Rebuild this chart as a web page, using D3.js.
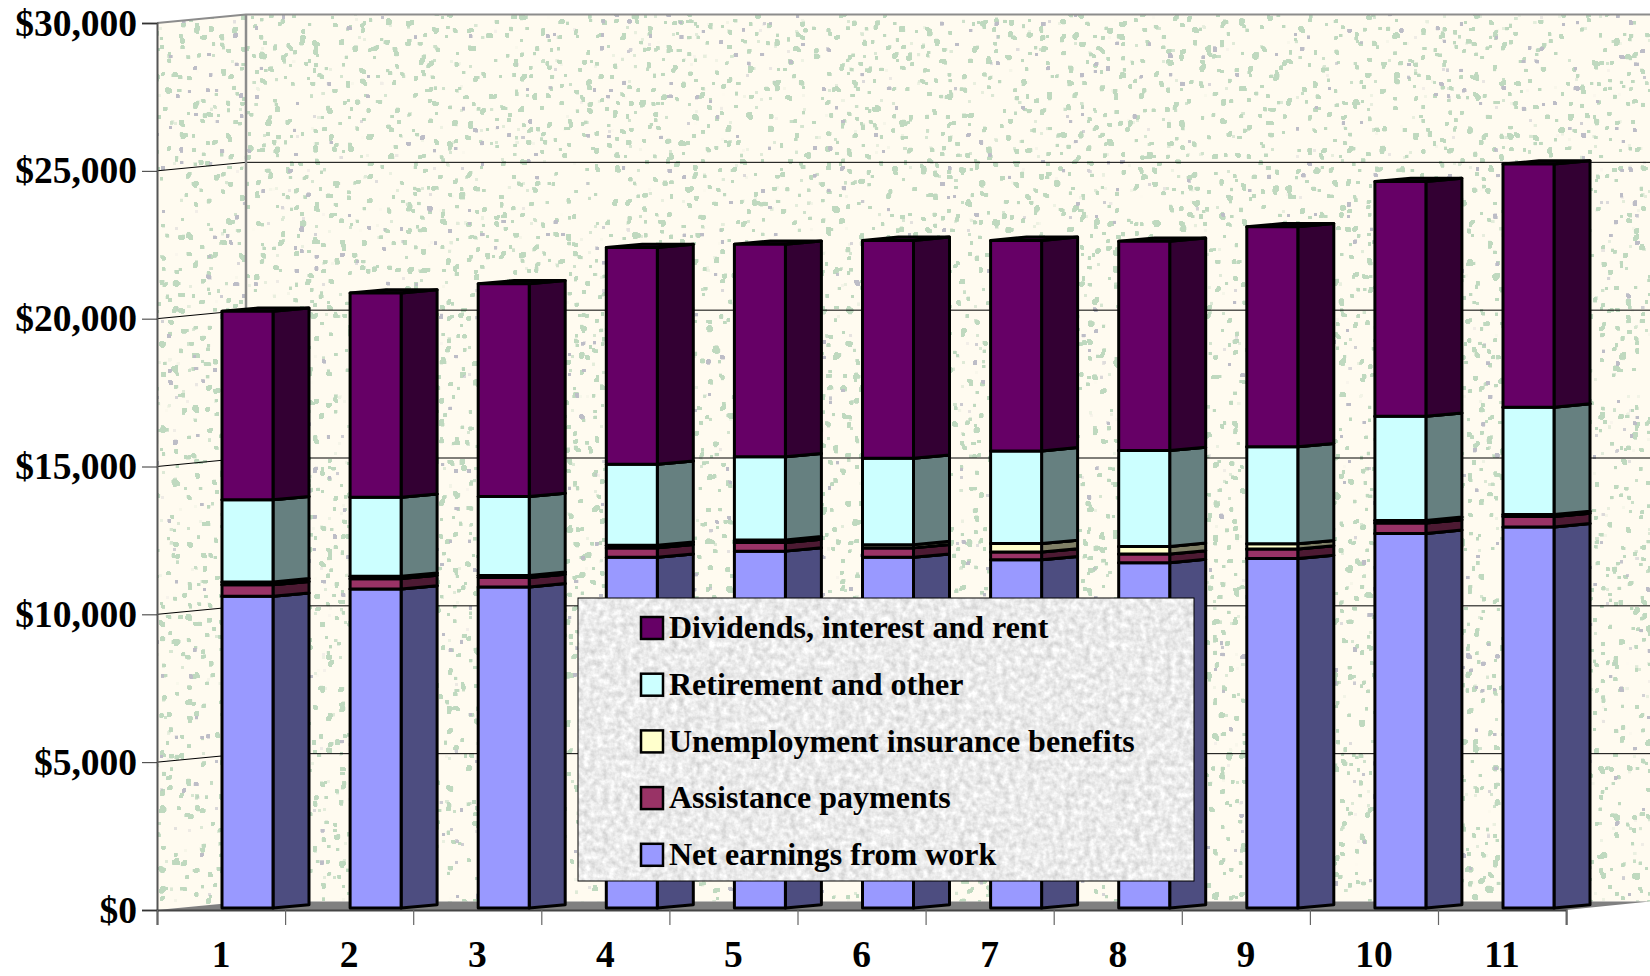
<!doctype html>
<meta charset="utf-8">
<style>
  html, body { margin: 0; background: #fff; }
  svg { display: block; }
  text { font-family: "Liberation Serif", serif; font-weight: bold; fill: #000; }
</style>
<body>
<div id="chart"></div>
<script src="https://d3js.org/d3.v7.min.js"></script>
<script>

const categories = ["1", "2", "3", "4", "5", "6", "7", "8", "9", "10", "11"]
const netEarnings = [10540, 10790, 10860, 11860, 12070, 11860, 11780, 11680, 11820, 12670, 12890]
const assistance = [390, 350, 320, 320, 290, 320, 260, 290, 320, 350, 350]
const unemployment = [100, 80, 70, 90, 90, 110, 290, 260, 180, 90, 70]
const retirement = [2780, 2670, 2670, 2740, 2810, 2920, 3130, 3240, 3280, 3520, 3630]
const dividends = [6370, 6910, 7190, 7330, 7190, 7370, 7120, 7080, 7440, 7940, 8220]
const yTicks = [0, 5000, 10000, 15000, 20000, 25000, 30000]

const seriesNames = ["Net earnings from work", "Assistance payments", "Unemployment insurance benefits", "Retirement and other", "Dividends, interest and rent"]
const seriesValues = [netEarnings, assistance, unemployment, retirement, dividends]
const frontColors = ["#9999ff", "#993366", "#ffffcc", "#ccffff", "#660066"]
const sideColors = ["#4d4d80", "#4d1a33", "#808066", "#668080", "#330033"]

const chartWidth = 1650
const chartHeight = 976
const plotLeft = 157
const plotBottom = 910
const plotTop = 23
const tickStep = 128.1
const wallDx = 89
const wallDy = -8.5

const svg = d3.select("#chart").append("svg")
  .attr("width", chartWidth)
  .attr("height", chartHeight)

const defs = svg.append("defs")

// speckled wallpaper: thresholded noise, dilated so the flecks come out blocky
function speckFilter(id, seed, color, cut) {
  const f = defs.append("filter").attr("id", id)
    .attr("x", 0).attr("y", 0).attr("width", 1).attr("height", 1)
    .attr("color-interpolation-filters", "sRGB")
  f.append("feTurbulence").attr("type", "fractalNoise")
    .attr("baseFrequency", 0.15).attr("numOctaves", 2).attr("seed", seed)
  f.append("feColorMatrix").attr("type", "matrix")
    .attr("values", "0 0 0 0 " + color[0] + "  0 0 0 0 " + color[1] + "  0 0 0 0 " + color[2] + "  60 0 0 0 " + (-60 * cut))
  f.append("feMorphology").attr("operator", "dilate").attr("radius", 1)
}
speckFilter("speck", 7, [0.75, 0.85, 0.75], 0.71)
speckFilter("speckGrey", 23, [0.74, 0.74, 0.78], 0.81)

// grey marble behind the legend
const marble = defs.append("filter").attr("id", "marble")
  .attr("x", 0).attr("y", 0).attr("width", 1).attr("height", 1)
  .attr("color-interpolation-filters", "sRGB")
marble.append("feTurbulence").attr("type", "fractalNoise")
  .attr("baseFrequency", 0.16).attr("numOctaves", 3).attr("seed", 3)
marble.append("feColorMatrix").attr("type", "matrix")
  .attr("values", "0.28 0 0 0 0.78  0.28 0 0 0 0.78  0.28 0 0 0 0.78  0 0 0 0 1")

const x = d3.scaleBand()
  .domain(categories)
  .range([plotLeft, plotLeft + categories.length * tickStep])

const xTicks = d3.scaleLinear()
  .domain([0, categories.length])
  .range([plotLeft, plotLeft + categories.length * tickStep])

const y = d3.scaleLinear()
  .domain([0, 30000])
  .range([plotBottom, plotTop])

// walls and floor
const wallPath = "M" + plotLeft + "," + y(30000) + "L" + (plotLeft + wallDx) + "," + (y(30000) + wallDy) +
  "H" + chartWidth + "V" + (y(0) + wallDy) + "H" + (plotLeft + wallDx) + "L" + plotLeft + "," + y(0) + "Z"
defs.append("clipPath").attr("id", "wallClip").append("path").attr("d", wallPath)

const walls = svg.append("g").attr("clip-path", "url(#wallClip)")
walls.append("rect").attr("x", plotLeft).attr("y", 0).attr("width", chartWidth - plotLeft).attr("height", plotBottom).attr("fill", "#fffbf0")
walls.append("rect").attr("x", plotLeft).attr("y", 0).attr("width", chartWidth - plotLeft).attr("height", plotBottom).attr("filter", "url(#speck)")
walls.append("rect").attr("x", plotLeft).attr("y", 0).attr("width", chartWidth - plotLeft).attr("height", plotBottom).attr("filter", "url(#speckGrey)")

svg.append("path")
  .attr("d", "M" + plotLeft + "," + y(0) + "L" + (plotLeft + wallDx) + "," + (y(0) + wallDy) + "H" + chartWidth +
    "L" + xTicks(categories.length) + "," + y(0) + "Z")
  .attr("fill", "#808080")

// gridlines on the side and back walls
const grid = svg.append("g")
grid.selectAll("path")
  .data(yTicks.filter(d => d > 0 && d < 30000))
  .enter()
  .append("path")
  .attr("d", d => "M" + plotLeft + "," + y(d) + "L" + (plotLeft + wallDx) + "," + (y(d) + wallDy) + "H" + chartWidth)
  .attr("fill", "none")
  .attr("stroke", "#000")
  .attr("stroke-width", 1)

svg.append("path")
  .attr("d", "M" + plotLeft + "," + y(30000) + "L" + (plotLeft + wallDx) + "," + (y(30000) + wallDy) + "H" + chartWidth)
  .attr("fill", "none").attr("stroke", "#8c8c8c").attr("stroke-width", 2)
svg.append("line")
  .attr("x1", plotLeft + wallDx).attr("x2", plotLeft + wallDx)
  .attr("y1", y(30000) + wallDy).attr("y2", y(0) + wallDy)
  .attr("stroke", "#8c8c8c").attr("stroke-width", 2.5)

// axes
const yAxis = svg.append("g")
  .attr("transform", "translate(" + plotLeft + ",0)")
  .call(d3.axisLeft(y).tickValues(yTicks).tickSize(15).tickFormat(d3.format("$,")))
yAxis.select(".domain").attr("stroke", "#555").attr("stroke-width", 2)
yAxis.selectAll("line").attr("stroke", "#333").attr("stroke-width", 1)
yAxis.selectAll("text").attr("font-size", 37.5).attr("x", -20).attr("dy", "0.32em")
  .style("font-family", "Liberation Serif").style("font-weight", "bold")

const xLine = svg.append("g")
  .attr("transform", "translate(0," + plotBottom + ")")
  .call(d3.axisBottom(xTicks).ticks(categories.length).tickSize(15).tickFormat(""))
xLine.select(".domain").attr("stroke", "#444").attr("stroke-width", 2)
xLine.selectAll("line").attr("stroke", "#666").attr("stroke-width", 1.2)

const xLabels = svg.append("g")
  .attr("transform", "translate(0," + plotBottom + ")")
  .call(d3.axisBottom(x).tickSize(0).tickPadding(45))
xLabels.select(".domain").remove()
xLabels.selectAll("text").attr("font-size", 37.5).attr("dy", "0.32em")
  .style("font-family", "Liberation Serif").style("font-weight", "bold")

// stacked 3D bars
const rows = categories.map((c, i) => {
  const row = { category: c }
  seriesNames.forEach((name, s) => { row[name] = seriesValues[s][i] })
  return row
})
const stacked = d3.stack().keys(seriesNames)(rows)

const barOffset = 65
const barWidth = 51
const barDx = 36
const barDy = -3.3
const barLift = -2

const bars = svg.append("g")
  .attr("stroke", "#000")
  .attr("stroke-width", 3)
  .attr("stroke-linejoin", "round")

stacked.forEach((layer, s) => {
  const segs = bars.append("g").selectAll("g")
    .data(layer)
    .enter()
    .append("g")

  const fx = d => x(d.data.category) + barOffset
  const fy = v => y(v) + barLift

  segs.append("path")
    .attr("d", d => "M" + (fx(d) + barWidth) + "," + fy(d[0]) +
      "l" + barDx + "," + barDy + "V" + (fy(d[1]) + barDy) +
      "L" + (fx(d) + barWidth) + "," + fy(d[1]) + "Z")
    .attr("fill", sideColors[s])

  segs.append("path")
    .attr("d", d => "M" + fx(d) + "," + fy(d[1]) + "l" + barDx + "," + barDy +
      "h" + barWidth + "l" + (-barDx) + "," + (-barDy) + "Z")
    .attr("fill", sideColors[s])

  segs.append("rect")
    .attr("x", fx)
    .attr("y", d => fy(d[1]))
    .attr("width", barWidth)
    .attr("height", d => fy(d[0]) - fy(d[1]))
    .attr("fill", frontColors[s])
})

// legend
const legend = svg.append("g").attr("transform", "translate(578,598)")
legend.append("rect").attr("width", 616).attr("height", 283).attr("filter", "url(#marble)")
legend.append("rect").attr("width", 616).attr("height", 283)
  .attr("fill", "none").attr("stroke", "#000").attr("stroke-width", 1)

const items = legend.selectAll(".item")
  .data(seriesNames.map((name, s) => ({ name, s })).reverse())
  .enter()
  .append("g")
  .attr("transform", (d, i) => "translate(0," + (30 + i * 56.7) + ")")

items.append("rect")
  .attr("x", 63).attr("y", -11).attr("width", 22).attr("height", 22)
  .attr("fill", d => frontColors[d.s])
  .attr("stroke", "#000").attr("stroke-width", 2.5)

items.append("text")
  .attr("x", 91)
  .attr("dy", "0.32em")
  .attr("font-size", 32)
  .text(d => d.name)

</script>
</body>
